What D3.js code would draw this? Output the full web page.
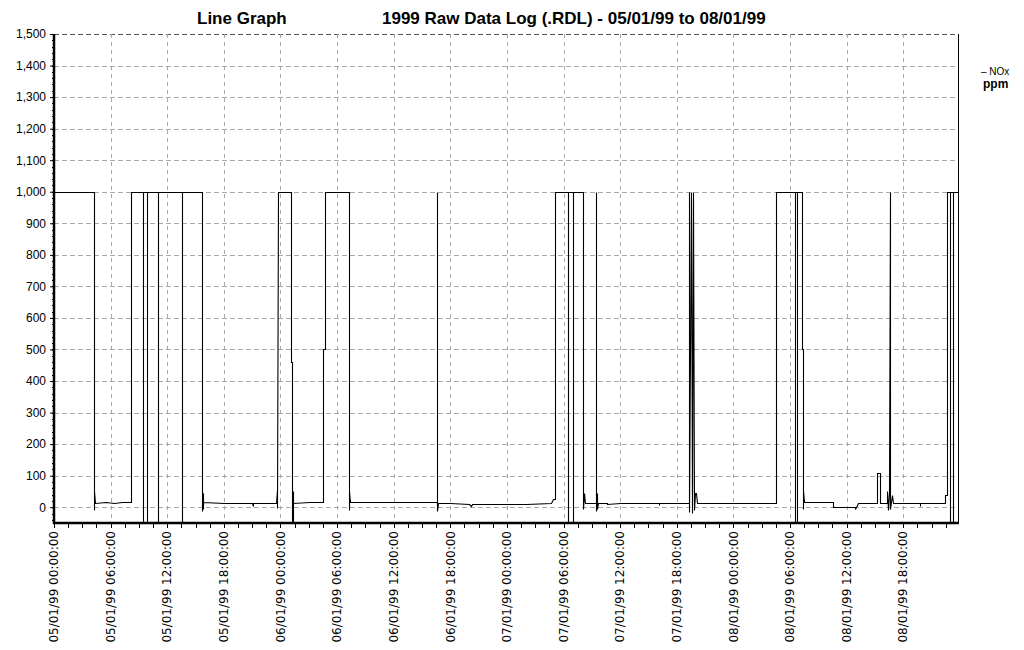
<!DOCTYPE html>
<html>
<head>
<meta charset="utf-8">
<script src="https://cdn.jsdelivr.net/npm/d3@7"></script>
<style>
body { margin: 0; background: #fff; }
text { fill: #000; }
</style>
</head>
<body>
<script>
// chart text
const chartTitle = "Line Graph";
const chartSubtitle = "1999 Raw Data Log (.RDL) - 05/01/99 to 08/01/99";
const seriesName = "NOx";
const unitLabel = "ppm";

// axis values
const yTickValues = [0, 100, 200, 300, 400, 500, 600, 700, 800, 900, 1000, 1100, 1200, 1300, 1400, 1500];
const xTickLabels = [
  "05/01/99 00:00:00", "05/01/99 06:00:00", "05/01/99 12:00:00", "05/01/99 18:00:00",
  "06/01/99 00:00:00", "06/01/99 06:00:00", "06/01/99 12:00:00", "06/01/99 18:00:00",
  "07/01/99 00:00:00", "07/01/99 06:00:00", "07/01/99 12:00:00", "07/01/99 18:00:00",
  "08/01/99 00:00:00", "08/01/99 06:00:00", "08/01/99 12:00:00", "08/01/99 18:00:00"
];
const logStart = "05/01/99 00:00:00";
const logHours = 95.8;

// NOx readings: [hours since log start, ppm]
const noxReadings = [
  [0, 1000], [4.21, 1000], [4.21, -8], [4.26, 50], [4.30, 14], [5.5, 15], [6.4, 13], [7.2, 15], [8.13, 15],
  [8.13, 1000], [9.40, 1000], [9.40, -60], [9.41, 1000],
  [9.83, 1000], [9.83, -60], [9.84, 1000],
  [10.99, 1000], [10.99, -60], [11.0, 1000],
  [13.54, 1000], [13.54, -60], [13.55, 1000],
  [15.66, 1000], [15.66, -12], [15.70, 55], [15.74, -5], [15.78, 45], [15.82, 15],
  [18.0, 14], [20.0, 13], [21.0, 13], [21.06, 3], [21.1, 13], [23.5, 14],
  [23.58, 55], [23.62, -3], [23.71, 1000],
  [25.09, 1000], [25.09, 460], [25.25, 460], [25.25, -60], [25.30, -60], [25.32, 50], [25.36, 14],
  [27.0, 15], [28.46, 15], [28.46, 500], [28.68, 500], [28.70, 1000],
  [31.24, 1000], [31.24, -8], [31.29, 50], [31.33, 16], [35.0, 16], [40.55, 16],
  [40.55, 1000], [40.57, -10], [40.60, 510], [40.63, -12], [40.66, 12],
  [42.0, 12], [44.0, 11], [44.2, 5], [44.3, 11], [50.0, 11], [52.7, 12], [52.9, 25], [53.08, 25],
  [53.08, 1000], [54.44, 1000], [54.44, -60], [54.46, 1000], [54.50, -60], [54.52, 1000],
  [54.99, 1000], [54.99, -60], [55.0, 1000],
  [56.05, 1000], [56.05, -5], [56.12, 45], [56.2, 45], [56.26, 14], [57.43, 14],
  [57.43, 1000], [57.45, -12], [57.5, 45], [57.55, -5], [57.62, 14],
  [58.59, 13], [58.6, 10], [60.0, 13], [62.0, 14], [64.11, 14], [64.11, 6], [64.12, 14], [67.25, 14],
  [67.29, 1000], [67.32, -15], [67.5, 1000], [67.6, -18], [67.7, 1000], [67.85, -10],
  [67.9, 45], [68.0, 45], [68.1, 14],
  [76.51, 14], [76.51, 1000], [78.52, 1000], [78.52, -60], [78.53, 1000],
  [78.73, 1000], [78.73, -60], [78.74, 1000], [79.26, 1000], [79.26, 500], [79.37, 500],
  [79.37, -5], [79.4, 55], [79.5, 15], [82.55, 15], [82.6, 0], [84.88, 0], [84.9, -6], [85.2, 13],
  [87.2, 13], [87.21, 110], [87.5, 110], [87.53, 12], [88.28, 14], [88.3, 50], [88.35, -10],
  [88.45, 45], [88.6, 1000], [88.62, -5], [88.8, 40], [88.91, 12],
  [91.77, 12], [91.78, 5], [91.8, 12], [94.42, 14], [94.45, 40], [94.63, 40],
  [94.63, 1000], [94.95, 1000], [94.95, -60], [94.96, 1000],
  [95.26, 1000], [95.26, -60], [95.27, 1000], [95.8, 1000]
];

// set the dimensions and margins of the graph
const margin = {top: 34, right: 66, bottom: 127, left: 54},
    width = 1024 - margin.left - margin.right,
    height = 650 - margin.top - margin.bottom;

const svg = d3.select("body")
    .append("svg")
    .attr("width", 1024)
    .attr("height", 650)
    .style("font-family", "'DejaVu Sans', sans-serif");

const g = svg.append("g")
    .attr("transform", `translate(${margin.left},${margin.top})`);

const parseTime = d3.timeParse("%d/%m/%y %H:%M:%S");
const t0 = parseTime(logStart);
const atHour = h => new Date(t0.getTime() + h * 3600e3);

const x = d3.scaleTime()
    .domain([t0, atHour(logHours)])
    .range([0, width]);

const y = d3.scaleLinear()
    .domain([-50, 1500])
    .range([height, 0]);

const gridColor = "#a8a8a8";

// horizontal grid
g.append("g")
    .selectAll("line")
    .data(yTickValues)
    .join("line")
    .attr("x1", 0)
    .attr("x2", width)
    .attr("y1", d => Math.round(y(d)) + 0.5)
    .attr("y2", d => Math.round(y(d)) + 0.5)
    .attr("stroke", d => d === 1500 ? "#555" : gridColor)
    .attr("stroke-dasharray", "5,3");

// vertical grid
const xTickTimes = xTickLabels.map(parseTime);
g.append("g")
    .selectAll("line")
    .data(xTickTimes.slice(1))
    .join("line")
    .attr("x1", d => Math.round(x(d)) + 0.5)
    .attr("x2", d => Math.round(x(d)) + 0.5)
    .attr("y1", 0)
    .attr("y2", height)
    .attr("stroke", gridColor)
    .attr("stroke-dasharray", "4,4");

// clip for the data line
svg.append("clipPath").attr("id", "plotClip")
    .append("rect")
    .attr("x", 0).attr("y", 0)
    .attr("width", width).attr("height", height);

const line = d3.line()
    .x(d => Math.round(x(atHour(d[0]))) + 0.5)
    .y(d => Math.round(y(d[1])) + 0.5);

g.append("path")
    .datum(noxReadings)
    .attr("clip-path", "url(#plotClip)")
    .attr("fill", "none")
    .attr("stroke", "#000")
    .attr("stroke-width", 1.1)
    .attr("d", line);

// right border
g.append("line")
    .attr("x1", width + 0.5).attr("x2", width + 0.5)
    .attr("y1", 0).attr("y2", height)
    .attr("stroke", "#000");

// y axis
const yAxis = g.append("g")
    .call(d3.axisLeft(y)
        .tickValues(yTickValues)
        .tickFormat(d3.format(","))
        .tickSize(4)
        .tickPadding(4))
    .call(a => a.select(".domain").remove());
yAxis.selectAll("text").style("font-size", "12px");

// y minor ticks
g.append("g")
    .selectAll("line")
    .data(d3.range(-40, 1500, 20))
    .join("line")
    .attr("x1", -2).attr("x2", 0)
    .attr("y1", d => Math.round(y(d)) + 0.5)
    .attr("y2", d => Math.round(y(d)) + 0.5)
    .attr("stroke", "#000");

// x ticks every 1.5h
g.append("g")
    .selectAll("line")
    .data(d3.range(0, logHours, 1.5))
    .join("line")
    .attr("x1", d => Math.round(x(atHour(d))) + 0.5)
    .attr("x2", d => Math.round(x(atHour(d))) + 0.5)
    .attr("y1", height)
    .attr("y2", height + 5)
    .attr("stroke", "#000");

// x labels
g.append("g")
    .selectAll("text")
    .data(xTickTimes)
    .join("text")
    .attr("transform", (d) => `translate(${x(d)},${height + 8}) rotate(-90)`)
    .attr("text-anchor", "end")
    .attr("dy", "0.35em")
    .style("font-size", "12px")
    .text((d, i) => xTickLabels[i]);

// axis lines (thick)
g.append("line")
    .attr("x1", 0).attr("x2", 0)
    .attr("y1", 0).attr("y2", height + 1)
    .attr("stroke", "#000").attr("stroke-width", 2.5);
g.append("line")
    .attr("x1", -1).attr("x2", width + 1)
    .attr("y1", height).attr("y2", height)
    .attr("stroke", "#000").attr("stroke-width", 2.5);

// titles
svg.append("text")
    .attr("x", 197).attr("y", 24)
    .style("font-family", "'Liberation Sans', Arial, sans-serif")
    .style("font-weight", "bold")
    .style("font-size", "17px")
    .text(chartTitle);
svg.append("text")
    .attr("x", 382).attr("y", 24)
    .style("font-family", "'Liberation Sans', Arial, sans-serif")
    .style("font-weight", "bold")
    .style("font-size", "17px")
    .text(chartSubtitle);

// legend
svg.append("text")
    .attr("x", 981).attr("y", 75)
    .style("font-family", "'Liberation Sans', Arial, sans-serif")
    .style("font-size", "10px")
    .text("\u2013 " + seriesName);
svg.append("text")
    .attr("x", 983).attr("y", 88)
    .style("font-family", "'Liberation Sans', Arial, sans-serif")
    .style("font-weight", "bold")
    .style("font-size", "12px")
    .text(unitLabel);
</script>
</body>
</html>
